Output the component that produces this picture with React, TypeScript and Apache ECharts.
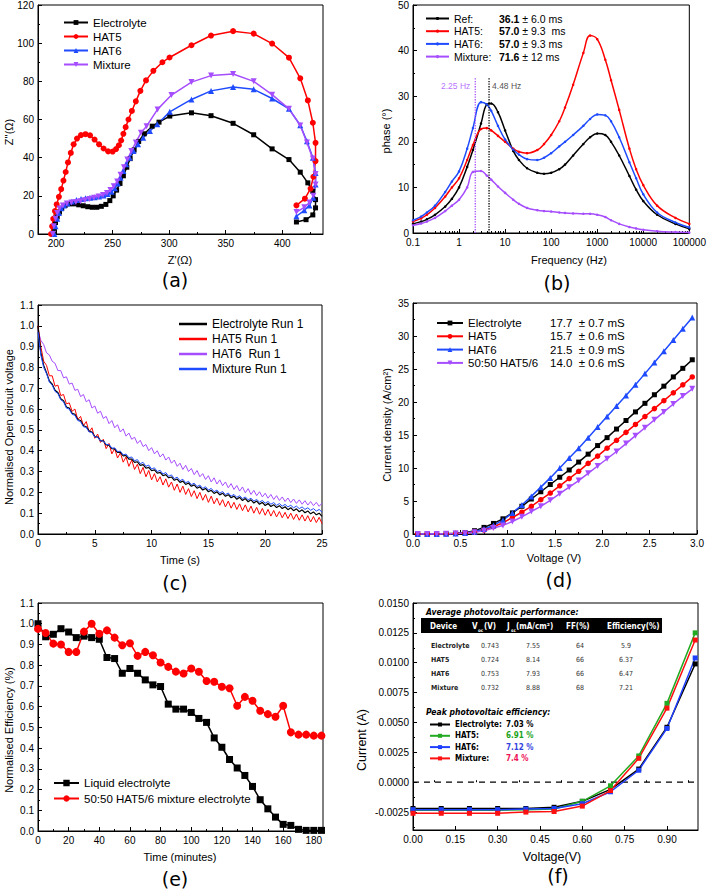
import React, { useEffect, useRef } from "react";
import * as echarts from "echarts";

const FONT = "'Liberation Sans', Arial, Helvetica, sans-serif";
const NARROW = "'Liberation Sans Narrow', 'DejaVu Sans Condensed', 'Liberation Sans', sans-serif";

const C_BLACK = "#000000";
const C_RED = "#ff0000";
const C_BLUE = "#1f4bff";
const C_PURPLE = "#a64dff";
const C_GREEN = "#22aa22";
const C_PINK = "#ee1155";

// ---------- (a) Nyquist: [Z' (Ω), Z'' (Ω)] ----------
const nyqElectrolyte = [
  [197.6, 0], [198.5, 3], [199.5, 6], [201, 9], [203, 11.5], [205, 13.5], [208, 15], [212, 15.8], [216, 15.8],
  [220, 15.3], [224, 14.8], [228, 14.3], [232, 14], [236, 14], [240, 14.5], [244, 15.5], [247.5, 17.5],
  [250.5, 20], [253.5, 23], [256.5, 26.5], [259.5, 30.5], [262.5, 35], [265.5, 39.5], [269, 44], [273, 48.5],
  [278, 52.5], [285, 56.5], [291, 58.6], [300.5, 61.8], [319.7, 63.5], [337, 62], [356.5, 58], [374.7, 52],
  [391, 44.6], [405.9, 39], [415.9, 32.4], [422.6, 26.8], [427, 22.4], [429.4, 18], [429.4, 13.7], [427, 10],
  [421, 7.5], [412.5, 6.3],
];
const nyqHAT5 = [
  [195.5, 0], [196.5, 4], [197.5, 8], [199, 12], [200.5, 15.5], [202.5, 19.5], [204.5, 23.5], [206.5, 28],
  [208.5, 32.5], [210.5, 37.5], [213, 42.5], [215.5, 47], [218.5, 50], [222, 51.8], [226, 52.3], [230, 51.7],
  [234, 49.5], [238, 47], [242, 44.8], [246, 43.3], [250, 43.2], [253, 44.5], [255.5, 46.5], [257.5, 49],
  [259.5, 52.5], [261.5, 56], [264, 60], [267, 64.5], [270.5, 69.5], [274.5, 75], [279.5, 80.5], [286, 85.5],
  [294, 90], [300.3, 92.5], [319.7, 98.9], [337, 104], [356.5, 106.3], [374.7, 105], [391, 99.8], [405.9, 92.4],
  [415.9, 81.6], [422.6, 70], [427, 58.3], [429.4, 47.8], [429.4, 38.2], [427.5, 30], [425, 23.8], [420, 18.5],
  [412.5, 15],
];
const nyqHAT6 = [
  [198.5, 0], [199.5, 4], [201, 8], [202.5, 11], [204.5, 13.5], [207, 15], [210, 16], [214, 17], [218, 17.8],
  [222, 18.3], [226, 18.7], [230, 19], [234, 19.3], [238, 19.7], [242, 20.2], [245.5, 21], [249, 22.2],
  [252, 24], [254.5, 26.5], [257, 29.5], [259.5, 33], [262, 36.5], [265, 40], [268.5, 43.5], [272.5, 47],
  [277, 50.5], [283, 54], [289.5, 57.5], [300.5, 64], [319.7, 70.5], [337, 75], [356.5, 77], [374.7, 75.8],
  [391, 71], [405.9, 65.6], [415.9, 57], [421.8, 48.6], [427, 40], [429.4, 32], [429.4, 26], [427.5, 19],
  [424, 15], [419.5, 12.4], [412.5, 9.3],
];
const nyqMixture = [
  [197, 0], [198, 4], [199.5, 8], [201, 11], [203, 13.3], [206, 15], [209.5, 16], [213.5, 16.5], [217.5, 16.8],
  [221.5, 17.2], [225.5, 17.7], [229.5, 18.3], [233.5, 19], [237.5, 19.7], [241.5, 20.5], [245, 21.5],
  [248, 23], [251, 25], [254, 27.5], [257, 31], [260, 35], [263, 39], [266.5, 43.5], [270.5, 48], [275, 53],
  [280, 56.5], [289.7, 65.3], [302, 72.8], [319.7, 79.6], [337, 83], [356.5, 83.8], [374.7, 80], [391, 73],
  [405.9, 65.6], [415.9, 56.9], [421.8, 48], [427, 39.5], [429.4, 31.5], [429.4, 26], [427.5, 20], [424, 16.5],
  [419.5, 14], [412.5, 11.5],
];
const nyqXTicks = [200, 250, 300, 350, 400];
const nyqXMinor = [225, 275, 325, 375, 425];

// ---------- (b) Bode phase ----------
const bodeFreq = [0.1, 0.15, 0.2, 0.3, 0.5, 0.7, 1, 1.5, 2, 3, 4, 5, 7, 10, 15, 20, 30, 50, 70, 100, 150, 200,
  300, 500, 700, 1000, 1500, 2000, 3000, 5000, 7000, 10000, 20000, 50000, 100000];
const bodeRef = [2.0, 2.5, 3.0, 4.0, 5.8, 7.5, 10, 14.5, 18.2, 24, 28.2, 28.4, 26.5, 22.5, 18, 16, 14.2, 13.2, 13,
  13.2, 14, 15, 17, 19.5, 21, 21.8, 21.5, 20, 17, 12.5, 9.5, 7, 4, 2, 0.9];
const bodeHAT5 = [2.5, 3.2, 4, 5.5, 8, 10, 12, 16, 19.3, 22.8, 23, 22.5, 21.3, 20, 18.5, 17.8, 17.5, 18.2, 19.5,
  21.5, 24.5, 27.5, 32.5, 39.5, 43.3, 42.5, 38, 33.5, 27, 18.5, 14, 10.5, 6, 3.3, 2];
const bodeHAT6 = [2.8, 3.6, 4.5, 6, 9, 11.3, 13.5, 18.5, 23, 28.7, 28.2, 26.8, 23.5, 20.5, 18.3, 17.2, 16.2, 16,
  16.5, 17.5, 19, 20, 21.5, 23.5, 25, 26, 25.8, 24.5, 21, 15.5, 12, 8.5, 4.5, 2.3, 1.2];
const bodeMixture = [1.7, 2.1, 2.5, 3.3, 4.8, 6, 7.3, 10, 13.4, 13.6, 12.6, 11.7, 10.2, 8.8, 7.3, 6.4, 5.5, 5,
  4.8, 4.7, 4.5, 4.4, 4.3, 4.2, 4.2, 4, 3.5, 2.8, 2, 1.3, 1, 0.7, 0.4, 0.2, 0.1];
const bodeMarkFreq = [2.25, 4.48];
const bodeMarkText = ["2.25 Hz", "4.48 Hz"];
const bodeMarkTop = 34;
const bodeMarkLabelY = 32.2;

// ---------- (c) Open circuit voltage decay, sampled every 0.25 s ----------
const ocvStep = 0.25;
const ocvElectrolyte = [
  1.0, 0.87, 0.81, 0.775, 0.735, 0.72, 0.69, 0.68, 0.65, 0.64,
  0.61, 0.605, 0.58, 0.575, 0.55, 0.545, 0.52, 0.515, 0.495, 0.49,
  0.468, 0.466, 0.448, 0.447, 0.428, 0.427, 0.41, 0.409, 0.392, 0.392,
  0.375, 0.377, 0.36, 0.36, 0.344, 0.347, 0.33, 0.333, 0.316, 0.32,
  0.304, 0.308, 0.292, 0.296, 0.28, 0.285, 0.27, 0.274, 0.258, 0.264,
  0.248, 0.254, 0.238, 0.245, 0.229, 0.236, 0.22, 0.227, 0.211, 0.219,
  0.203, 0.21, 0.195, 0.203, 0.188, 0.196, 0.181, 0.189, 0.174, 0.182,
  0.167, 0.176, 0.161, 0.17, 0.155, 0.164, 0.149, 0.158, 0.143, 0.152,
  0.137, 0.147, 0.132, 0.141, 0.127, 0.136, 0.122, 0.131, 0.117, 0.126,
  0.112, 0.121, 0.107, 0.116, 0.102, 0.111, 0.097, 0.106, 0.092, 0.1,
  0.085,
];
const ocvHAT5 = [
  1.0, 0.9, 0.83, 0.81, 0.76, 0.76, 0.71, 0.715, 0.665, 0.67,
  0.625, 0.63, 0.59, 0.6, 0.55, 0.565, 0.52, 0.54, 0.49, 0.51,
  0.46, 0.48, 0.44, 0.455, 0.41, 0.435, 0.385, 0.41, 0.365, 0.39,
  0.345, 0.37, 0.325, 0.355, 0.31, 0.335, 0.29, 0.32, 0.275, 0.305,
  0.26, 0.29, 0.25, 0.275, 0.235, 0.265, 0.225, 0.25, 0.21, 0.24,
  0.2, 0.23, 0.19, 0.218, 0.18, 0.208, 0.17, 0.2, 0.162, 0.19,
  0.152, 0.182, 0.145, 0.172, 0.138, 0.165, 0.13, 0.158, 0.124, 0.152,
  0.118, 0.145, 0.112, 0.14, 0.106, 0.134, 0.1, 0.128, 0.095, 0.123,
  0.09, 0.118, 0.086, 0.113, 0.082, 0.108, 0.078, 0.104, 0.074, 0.1,
  0.07, 0.096, 0.066, 0.092, 0.062, 0.088, 0.058, 0.084, 0.055, 0.08,
  0.05,
];
const ocvHAT6 = [
  0.98, 0.93, 0.91, 0.87, 0.86, 0.83, 0.82, 0.785, 0.785, 0.75,
  0.755, 0.72, 0.725, 0.69, 0.695, 0.66, 0.67, 0.635, 0.645, 0.605,
  0.615, 0.58, 0.59, 0.555, 0.565, 0.53, 0.545, 0.51, 0.525, 0.49,
  0.505, 0.47, 0.485, 0.455, 0.465, 0.435, 0.45, 0.42, 0.43, 0.4,
  0.415, 0.385, 0.4, 0.37, 0.385, 0.355, 0.37, 0.34, 0.355, 0.325,
  0.34, 0.31, 0.33, 0.3, 0.315, 0.285, 0.305, 0.275, 0.29, 0.262,
  0.28, 0.25, 0.27, 0.24, 0.26, 0.232, 0.25, 0.222, 0.242, 0.214,
  0.233, 0.206, 0.226, 0.198, 0.218, 0.19, 0.21, 0.184, 0.203, 0.178,
  0.196, 0.172, 0.19, 0.166, 0.184, 0.161, 0.178, 0.156, 0.173, 0.151,
  0.168, 0.147, 0.164, 0.143, 0.16, 0.139, 0.156, 0.136, 0.152, 0.133,
  0.148,
];
const ocvMixture = [
  0.97, 0.86, 0.8, 0.77, 0.73, 0.715, 0.685, 0.675, 0.645, 0.635,
  0.605, 0.6, 0.575, 0.57, 0.545, 0.54, 0.515, 0.512, 0.49, 0.488,
  0.466, 0.466, 0.447, 0.447, 0.43, 0.43, 0.412, 0.414, 0.396, 0.398,
  0.38, 0.384, 0.366, 0.37, 0.352, 0.357, 0.338, 0.344, 0.325, 0.331,
  0.312, 0.318, 0.3, 0.306, 0.288, 0.295, 0.277, 0.284, 0.266, 0.273,
  0.256, 0.263, 0.246, 0.253, 0.237, 0.244, 0.228, 0.235, 0.219, 0.227,
  0.211, 0.219, 0.203, 0.211, 0.196, 0.204, 0.189, 0.197, 0.182, 0.19,
  0.176, 0.184, 0.17, 0.178, 0.164, 0.172, 0.158, 0.166, 0.153, 0.161,
  0.148, 0.156, 0.143, 0.151, 0.138, 0.146, 0.134, 0.142, 0.13, 0.138,
  0.126, 0.134, 0.122, 0.13, 0.118, 0.126, 0.114, 0.122, 0.11, 0.118,
  0.105,
];

// ---------- (d) Current density vs voltage ----------
const ivVoltage = [0.05, 0.15, 0.25, 0.35, 0.45, 0.55, 0.65, 0.75, 0.85, 0.95, 1.05, 1.15, 1.25, 1.35, 1.45,
  1.55, 1.65, 1.75, 1.85, 1.95, 2.05, 2.15, 2.25, 2.35, 2.45, 2.55, 2.65, 2.75, 2.85, 2.95];
const ivElectrolyte = [0, 0, 0, 0.05, 0.1, 0.2, 0.5, 1.0, 1.6, 2.3, 3.2, 4.2, 5.3, 6.4, 7.5, 8.6, 9.7, 10.9,
  12.1, 13.4, 14.6, 15.9, 17.2, 18.5, 19.8, 21.1, 22.4, 23.8, 25.1, 26.4];
const ivHAT5 = [0, 0, 0, 0.03, 0.08, 0.15, 0.3, 0.6, 1.1, 1.7, 2.5, 3.3, 4.2, 5.2, 6.2, 7.3, 8.4, 9.5, 10.7,
  11.8, 13.0, 14.2, 15.4, 16.6, 17.8, 19.0, 20.2, 21.4, 22.6, 23.8];
const ivHAT6 = [0, 0, 0, 0.03, 0.08, 0.15, 0.35, 0.75, 1.3, 2.1, 3.2, 4.4, 5.7, 7.1, 8.5, 10.0, 11.5, 13.0, 14.6,
  16.2, 17.8, 19.4, 21.0, 22.6, 24.3, 26.0, 27.7, 29.4, 31.1, 32.8];
const ivMixture = [0, 0, 0, 0.03, 0.06, 0.12, 0.25, 0.5, 0.9, 1.3, 1.9, 2.6, 3.4, 4.2, 5.1, 6.1, 7.1, 8.1, 9.2,
  10.3, 11.4, 12.5, 13.7, 14.9, 16.1, 17.3, 18.5, 19.7, 20.9, 22.0];

// ---------- (e) Stability ----------
const stabTime = [0, 5, 10, 15, 20, 25, 30, 35, 40, 45, 50, 55, 60, 65, 70, 75, 80, 85, 90, 95, 100, 105, 110,
  115, 120, 125, 130, 135, 140, 145, 150, 155, 160, 165, 170, 175, 180, 185];
const stabLiquid = [1.0, 0.937, 0.949, 0.976, 0.96, 0.933, 0.94, 0.933, 0.925, 0.837, 0.832, 0.761, 0.784, 0.761,
  0.729, 0.705, 0.697, 0.612, 0.588, 0.588, 0.572, 0.543, 0.524, 0.449, 0.404, 0.345, 0.304, 0.268, 0.215, 0.151,
  0.107, 0.067, 0.032, 0.027, 0.008, 0.003, 0.003, 0.003];
const stabMixture = [0.975, 0.955, 0.904, 0.9, 0.864, 0.864, 0.962, 1.0, 0.952, 0.968, 0.933, 0.896, 0.906, 0.845,
  0.864, 0.848, 0.813, 0.792, 0.769, 0.76, 0.784, 0.768, 0.724, 0.72, 0.696, 0.689, 0.604, 0.647, 0.628, 0.58,
  0.564, 0.551, 0.604, 0.476, 0.465, 0.465, 0.46, 0.46];
const stabXTicks = [0, 20, 40, 60, 80, 100, 120, 140, 160, 180];
const stabXMinor = [10, 30, 50, 70, 90, 110, 130, 150, 170];

// ---------- (f) J-V curves ----------
const jvVoltage = [0, 0.1, 0.2, 0.3, 0.4, 0.5, 0.6, 0.7, 0.8, 0.9, 1.0];
const jvElectrolyte = [-0.0022, -0.0022, -0.0022, -0.0022, -0.0022, -0.0021, -0.0016, -0.0006, 0.0011, 0.0046, 0.0099];
const jvHAT5 = [-0.00235, -0.00235, -0.00235, -0.00235, -0.0023, -0.00225, -0.0016, -0.0003, 0.0022, 0.0066, 0.0125];
const jvHAT6 = [-0.0023, -0.0023, -0.0023, -0.0023, -0.00225, -0.0022, -0.0018, -0.0008, 0.001, 0.0045, 0.0104];
const jvMixture = [-0.0026, -0.0026, -0.0026, -0.0026, -0.0025, -0.00245, -0.002, -0.0007, 0.002, 0.0062, 0.0119];
const jvXTicks = [0, 0.15, 0.3, 0.45, 0.6, 0.75, 0.9];
const jvXMinor = [0.075, 0.225, 0.375, 0.525, 0.675, 0.825, 0.975];
const jvYTicks = [-0.0025, 0, 0.0025, 0.005, 0.0075, 0.01, 0.0125, 0.015];
const jvYMinor = [-0.00375, -0.00125, 0.00125, 0.00375, 0.00625, 0.00875, 0.01125, 0.01375];
const tableDevices = ["Electrolyte", "HAT5", "HAT6", "Mixture"];
const tableVoc = ["0.743", "0.724", "0.753", "0.732"];
const tableJsc = ["7.55", "8.14", "7.93", "8.88"];
const tableFF = ["64", "66", "66", "68"];
const tableEff = ["5.9", "6.37", "6.47", "7.21"];
const peakEff = ["7.03 %", "6.91 %", "7.12 %", "7.4 %"];

// ---------- display names ----------
const NAMES: Record<string, string> = {
  a_el: "Electrolyte", a_h5: "HAT5", a_h6: "HAT6", a_mx: "Mixture",
  c_el: "Electrolyte Run 1", c_h5: "HAT5 Run 1", c_h6: "HAT6  Run 1", c_mx: "Mixture Run 1",
  e_li: "Liquid electrolyte", e_mx: "50:50 HAT5/6 mixture electrolyte",
};
const BODE_LEG: Record<string, string> = {
  b_ref: "{n|Ref:}{b|36.1}{v| ± 6.0 ms}",
  b_h5: "{n|HAT5:}{b|57.0}{v| ± 9.3  ms}",
  b_h6: "{n|HAT6:}{b|57.0}{v| ± 9.3 ms}",
  b_mx: "{n|Mixture:}{b|71.6}{v| ± 12 ms}",
};
const IV_LEG: Record<string, string> = {
  d_el: "{n|Electrolyte}{v|17.7  ± 0.7 mS}",
  d_h5: "{n|HAT5}{v|15.7  ± 0.6 mS}",
  d_h6: "{n|HAT6}{v|21.5  ± 0.9 mS}",
  d_mx: "{n|50:50 HAT5/6}{v|14.0  ± 0.6 mS}",
};
const JV_LEG: Record<string, string> = {
  f_el: `{n|Electrolyte:}{k|${peakEff[0]}}`,
  f_h5: `{n|HAT5:}{g|${peakEff[1]}}`,
  f_h6: `{n|HAT6:}{b|${peakEff[2]}}`,
  f_mx: `{n|Mixture:}{r|${peakEff[3]}}`,
};

const tickLine = { color: "#000", width: 1 };

function mkAxis(gridIndex: number, o: any) {
  return {
    type: o.type || "value",
    gridIndex,
    min: o.min,
    max: o.max,
    interval: o.interval,
    logBase: o.logBase,
    position: o.position,
    offset: 0,
    axisLine: { show: true, onZero: false, lineStyle: tickLine },
    axisTick: { show: true, inside: true, length: 4, lineStyle: tickLine, customValues: o.ticks },
    minorTick: o.minor
      ? { show: true, splitNumber: o.minor, length: 2, lineStyle: tickLine }
      : { show: false },
    axisLabel: {
      show: true, color: "#000", fontSize: o.fontSize || 10, fontFamily: FONT, margin: o.margin ?? 4,
      customValues: o.ticks, formatter: o.formatter, showMinLabel: true, showMaxLabel: true, hideOverlap: false,
    },
    splitLine: { show: false },
    minorSplitLine: { show: false },
  };
}

function mkMinor(kind: "x" | "y", gridIndex: number, min: number, max: number, ticks: number[]) {
  return {
    type: "value", gridIndex, min, max, position: kind === "x" ? "bottom" : "left", offset: 0,
    axisLine: { show: false }, axisLabel: { show: false }, splitLine: { show: false },
    axisTick: { show: true, inside: true, length: 2, lineStyle: tickLine, customValues: ticks },
  };
}

function T(x: number, y: number, text: string, o: any = {}) {
  const align = o.align || "center";
  return {
    type: "text", x, y, rotation: o.rot || 0, silent: true, z: 100,
    style: {
      text, fill: o.fill || "#000", fontSize: o.size || 11, fontFamily: o.family || FONT,
      fontWeight: o.weight || "normal", fontStyle: o.italic ? "italic" : "normal",
      align, verticalAlign: "middle", textAlign: align, textVerticalAlign: "middle",
    },
  };
}

function lineSeries(name: string, xi: number, yi: number, data: any[], color: string, o: any = {}) {
  return {
    type: "line", name, xAxisIndex: xi, yAxisIndex: yi, data,
    symbol: o.symbol || "none", symbolSize: o.symbolSize || 5, symbolRotate: o.rotate || 0,
    showSymbol: !!o.symbol, smooth: o.smooth || false, silent: true,
    itemStyle: { color }, lineStyle: { color, width: o.width || 1.5, type: o.dash || "solid" },
    emphasis: { disabled: true }, z: o.z || 2,
  };
}

function buildOption() {
  const grids = [
    { left: 38, top: 5, width: 285, height: 229 },
    { left: 413, top: 5, width: 281, height: 228 },
    { left: 38, top: 305, width: 284, height: 229 },
    { left: 413, top: 303, width: 284, height: 231 },
    { left: 38, top: 603, width: 285, height: 228 },
    { left: 413, top: 603, width: 285, height: 227 },
  ].map((g) => ({ ...g, show: true, borderColor: "#000", borderWidth: 1, backgroundColor: "transparent" }));

  const fmt1 = (v: number) => v.toFixed(1);
  const logFmt = (v: number) => (v < 1 ? String(+v.toFixed(1)) : String(Math.round(v)));
  const logMinor: number[] = [];
  for (let d = -1; d < 5; d++) for (let k = 2; k <= 9; k++) logMinor.push(d + Math.log10(k));

  const xAxis = [
    mkAxis(0, { min: 184, max: 436, ticks: nyqXTicks, position: "bottom" }),
    mkAxis(1, { type: "log", logBase: 10, min: 0.1, max: 100000, formatter: logFmt, position: "bottom" }),
    mkAxis(2, { min: 0, max: 25, interval: 5, minor: 2, position: "bottom" }),
    mkAxis(3, { min: 0, max: 3, interval: 0.5, minor: 2, formatter: fmt1, position: "bottom" }),
    mkAxis(4, { min: 0, max: 186, ticks: stabXTicks, position: "bottom" }),
    mkAxis(5, { min: 0, max: 1.01, ticks: jvXTicks, formatter: (v: number) => v.toFixed(2), position: "bottom" }),
    mkMinor("x", 0, 184, 436, nyqXMinor),
    mkMinor("x", 1, -1, 5, logMinor),
    mkMinor("x", 4, 0, 186, stabXMinor),
    mkMinor("x", 5, 0, 1.01, jvXMinor),
  ];
  const yAxis = [
    mkAxis(0, { min: 0, max: 120, interval: 20, minor: 2, position: "left" }),
    mkAxis(1, { min: 0, max: 50, interval: 10, minor: 2, position: "left" }),
    mkAxis(2, { min: 0, max: 1.1, interval: 0.1, minor: 2, formatter: fmt1, position: "left" }),
    mkAxis(3, { min: 0, max: 35, interval: 5, minor: 2, position: "left" }),
    mkAxis(4, { min: 0, max: 1.1, interval: 0.1, minor: 2, formatter: fmt1, position: "left" }),
    mkAxis(5, { min: -0.004, max: 0.015, ticks: jvYTicks, formatter: (v: number) => v.toFixed(4), position: "left" }),
    mkMinor("y", 5, -0.004, 0.015, jvYMinor),
  ];

  const pair = (xs: number[], ys: number[]) => ys.map((y, i) => [xs[i], y]);
  const ocvPairs = (ys: number[]) => ys.map((y, i) => [i * ocvStep, y]);

  const series: any[] = [
    // (a)
    lineSeries("a_el", 0, 0, nyqElectrolyte, C_BLACK, { symbol: "rect", symbolSize: 5 }),
    lineSeries("a_h5", 0, 0, nyqHAT5, C_RED, { symbol: "circle", symbolSize: 6 }),
    lineSeries("a_h6", 0, 0, nyqHAT6, C_BLUE, { symbol: "triangle", symbolSize: 6 }),
    lineSeries("a_mx", 0, 0, nyqMixture, C_PURPLE, { symbol: "triangle", rotate: 180, symbolSize: 6 }),
    // (b)
    lineSeries("b_ref", 1, 1, pair(bodeFreq, bodeRef), C_BLACK, { symbol: "circle", symbolSize: 2.5, smooth: 0.4 }),
    lineSeries("b_h5", 1, 1, pair(bodeFreq, bodeHAT5), C_RED, { symbol: "circle", symbolSize: 2.5, smooth: 0.4 }),
    lineSeries("b_h6", 1, 1, pair(bodeFreq, bodeHAT6), C_BLUE, { symbol: "circle", symbolSize: 2.5, smooth: 0.4 }),
    lineSeries("b_mx", 1, 1, pair(bodeFreq, bodeMixture), C_PURPLE, { symbol: "circle", symbolSize: 2.5, smooth: 0.4 }),
    lineSeries("b_v1", 1, 1, [[bodeMarkFreq[0], 0], [bodeMarkFreq[0], bodeMarkTop]], C_PURPLE, { dash: "dotted", width: 1.3 }),
    lineSeries("b_v2", 1, 1, [[bodeMarkFreq[1], 0], [bodeMarkFreq[1], bodeMarkTop]], C_BLACK, { dash: "dotted", width: 1.3 }),
    {
      type: "scatter", name: "b_lbl", xAxisIndex: 1, yAxisIndex: 1, symbol: "circle", symbolSize: 2, silent: true,
      itemStyle: { color: "rgba(255,255,255,0)" },
      data: [
        { value: [bodeMarkFreq[0], bodeMarkLabelY], label: { show: true, position: "left", distance: 4, formatter: bodeMarkText[0], color: C_PURPLE, fontSize: 8.5, fontFamily: FONT } },
        { value: [bodeMarkFreq[1], bodeMarkLabelY], label: { show: true, position: "right", distance: 2, formatter: bodeMarkText[1], color: "#222", fontSize: 8.5, fontFamily: FONT } },
      ],
      label: { show: true, fontSize: 8.5, fontFamily: FONT },
      z: 5,
    },
    // (c)
    lineSeries("c_h6", 2, 2, ocvPairs(ocvHAT6), C_PURPLE, { width: 1 }),
    lineSeries("c_h5", 2, 2, ocvPairs(ocvHAT5), C_RED, { width: 1 }),
    lineSeries("c_el", 2, 2, ocvPairs(ocvElectrolyte), C_BLACK, { width: 1.2 }),
    lineSeries("c_mx", 2, 2, ocvPairs(ocvMixture), C_BLUE, { width: 1 }),
    // (d)
    lineSeries("d_el", 3, 3, pair(ivVoltage, ivElectrolyte), C_BLACK, { symbol: "rect", symbolSize: 5 }),
    lineSeries("d_h5", 3, 3, pair(ivVoltage, ivHAT5), C_RED, { symbol: "circle", symbolSize: 5.5 }),
    lineSeries("d_h6", 3, 3, pair(ivVoltage, ivHAT6), C_BLUE, { symbol: "triangle", symbolSize: 6 }),
    lineSeries("d_mx", 3, 3, pair(ivVoltage, ivMixture), C_PURPLE, { symbol: "triangle", rotate: 180, symbolSize: 6 }),
    // (e)
    lineSeries("e_li", 4, 4, pair(stabTime, stabLiquid), C_BLACK, { symbol: "rect", symbolSize: 7 }),
    lineSeries("e_mx", 4, 4, pair(stabTime, stabMixture), C_RED, { symbol: "circle", symbolSize: 8 }),
    // (f)
    lineSeries("f_zero", 5, 5, [[0, 0], [1.01, 0]], C_BLACK, { dash: [6, 5], width: 1.2 }),
    lineSeries("f_el", 5, 5, pair(jvVoltage, jvElectrolyte), C_BLACK, { symbol: "rect", symbolSize: 5 }),
    lineSeries("f_h5", 5, 5, pair(jvVoltage, jvHAT5), C_GREEN, { symbol: "rect", symbolSize: 5 }),
    lineSeries("f_h6", 5, 5, pair(jvVoltage, jvHAT6), "#1f3fff", { symbol: "rect", symbolSize: 5 }),
    lineSeries("f_mx", 5, 5, pair(jvVoltage, jvMixture), "#ff1010", { symbol: "rect", symbolSize: 5 }),
  ];

  const legBase = { orient: "vertical", selectedMode: false, padding: 0 };
  const legend = [
    {
      ...legBase, data: ["a_el", "a_h5", "a_h6", "a_mx"], left: 63, top: 16.5, itemWidth: 24, itemHeight: 6,
      itemGap: 2, formatter: (n: string) => NAMES[n],
      textStyle: { fontSize: 11.5, lineHeight: 11, fontFamily: FONT, color: "#000" },
    },
    {
      ...legBase, data: ["b_ref", "b_h5", "b_h6", "b_mx"], left: 425, top: 13, itemWidth: 23, itemHeight: 4,
      itemGap: 1.7, formatter: (n: string) => BODE_LEG[n],
      textStyle: {
        fontSize: 10.5, lineHeight: 11, fontFamily: FONT, color: "#000",
        rich: {
          n: { width: 45, fontSize: 10.5, fontFamily: FONT, color: "#000" },
          b: { fontWeight: "bold", fontSize: 10.5, fontFamily: FONT, color: "#000" },
          v: { fontSize: 10.5, fontFamily: FONT, color: "#000" },
        },
      },
    },
    {
      ...legBase, data: ["c_el", "c_h5", "c_h6", "c_mx"], left: 179, top: 318, itemWidth: 28, itemHeight: 2.5,
      icon: "rect", itemGap: 3, formatter: (n: string) => NAMES[n],
      textStyle: { fontSize: 12, lineHeight: 12, fontFamily: FONT, color: "#000" },
    },
    {
      ...legBase, data: ["d_el", "d_h5", "d_h6", "d_mx"], left: 436, top: 317, itemWidth: 26, itemHeight: 6,
      itemGap: 1.3, formatter: (n: string) => IV_LEG[n],
      textStyle: {
        fontSize: 11.5, lineHeight: 12, fontFamily: FONT, color: "#000",
        rich: {
          n: { width: 82, fontSize: 11.5, fontFamily: FONT, color: "#000" },
          v: { fontSize: 11.5, fontFamily: FONT, color: "#000" },
        },
      },
    },
    {
      ...legBase, data: ["e_li", "e_mx"], left: 53, top: 777, itemWidth: 25, itemHeight: 8,
      itemGap: 3.5, formatter: (n: string) => NAMES[n],
      textStyle: { fontSize: 11.5, lineHeight: 12, fontFamily: FONT, color: "#000" },
    },
    {
      ...legBase, data: ["f_el", "f_h5", "f_h6", "f_mx"], left: 429, top: 719.5, itemWidth: 20, itemHeight: 5,
      itemGap: 1.3, formatter: (n: string) => JV_LEG[n],
      textStyle: {
        fontSize: 8, lineHeight: 10, fontFamily: NARROW, color: "#000", fontWeight: "bold",
        rich: {
          n: { width: 51, fontSize: 8, fontFamily: NARROW, fontWeight: "bold", color: "#000" },
          k: { fontSize: 8, fontFamily: NARROW, fontWeight: "bold", color: "#000" },
          g: { fontSize: 8, fontFamily: NARROW, fontWeight: "bold", color: "#1aa31a" },
          b: { fontSize: 8, fontFamily: NARROW, fontWeight: "bold", color: "#3344dd" },
          r: { fontSize: 8, fontFamily: NARROW, fontWeight: "bold", color: C_PINK },
        },
      },
    },
  ];

  const rot = Math.PI / 2;
  const LBL = "'DejaVu Sans', sans-serif";
  const hdr = { align: "left", size: 8, weight: "bold", fill: "#fff", family: NARROW };
  const sub = { align: "left", size: 4.5, weight: "bold", fill: "#fff", family: NARROW };
  const graphics: any[] = [
    // axis titles
    T(180, 260, "Z'(Ω)"), T(9, 132, "Z''(Ω)", { rot }),
    T(569, 260, "Frequency (Hz)"), T(386, 131, "phase (°)", { rot }),
    T(180, 560, "Time (s)"), T(9, 427, "Normalised Open circuit voltage", { rot }),
    T(554, 558, "Voltage (V)"), T(387, 425, "Current density (A/cm²)", { rot }),
    T(180, 857, "Time (minutes)"), T(9, 730, "Normalised Efficiency (%)", { rot }),
    T(552, 857, "Voltage(V)", { size: 12.5 }), T(362, 740, "Current (A)", { rot, size: 12.5 }),
    // panel labels
    T(175, 280, "(a)", { size: 19, family: LBL }),
    T(557, 283, "(b)", { size: 19, family: LBL }),
    T(175, 583, "(c)", { size: 19, family: LBL }),
    T(559, 580, "(d)", { size: 19, family: LBL }),
    T(175, 879, "(e)", { size: 19, family: LBL }),
    T(558, 876, "(f)", { size: 19, family: LBL }),
    // table in (f)
    T(426, 612, "Average photovoltaic performance:", { align: "left", size: 8.5, weight: "bold", italic: true, family: NARROW }),
    { type: "rect", shape: { x: 421, y: 618, width: 241, height: 15 }, style: { fill: "#000" }, silent: true, z: 99 },
    T(430, 626, "Device", hdr),
    T(472, 626, "V", hdr),
    T(478, 630, "oc", sub),
    T(484, 626, "(V)", hdr),
    T(507, 626, "J", hdr),
    T(511, 630, "sc", sub),
    T(516, 626, "(mA/cm²)", hdr),
    T(566, 626, "FF(%)", hdr),
    T(607, 626, "Efficiency(%)", hdr),
    T(426, 712, "Peak photovoltaic efficiency:", { align: "left", size: 8.5, weight: "bold", italic: true, family: NARROW }),
  ];
  const rowY = [646, 660, 674, 688];
  tableDevices.forEach((d, i) => {
    graphics.push(T(431, rowY[i], d, { align: "left", size: 7, weight: "bold", fill: "#222", family: NARROW }));
    graphics.push(T(490, rowY[i], tableVoc[i], { size: 7, fill: "#333", family: NARROW }));
    graphics.push(T(533, rowY[i], tableJsc[i], { size: 7, fill: "#333", family: NARROW }));
    graphics.push(T(580, rowY[i], tableFF[i], { size: 7, fill: "#333", family: NARROW }));
    graphics.push(T(626, rowY[i], tableEff[i], { size: 7, fill: "#333", family: NARROW }));
  });

  return {
    animation: false,
    backgroundColor: "#ffffff",
    textStyle: { fontFamily: FONT },
    grid: grids,
    xAxis,
    yAxis,
    legend,
    series,
    graphic: { elements: graphics },
  };
}

export default function App() {
  const ref = useRef<HTMLDivElement>(null);
  useEffect(() => {
    document.body.style.margin = "0";
    if (!ref.current) return;
    const chart = echarts.init(ref.current, undefined, { renderer: "svg" });
    chart.setOption(buildOption() as any);
    return () => chart.dispose();
  }, []);
  return <div ref={ref} style={{ width: 709, height: 890, position: "absolute", left: 0, top: 0 }} />;
}
